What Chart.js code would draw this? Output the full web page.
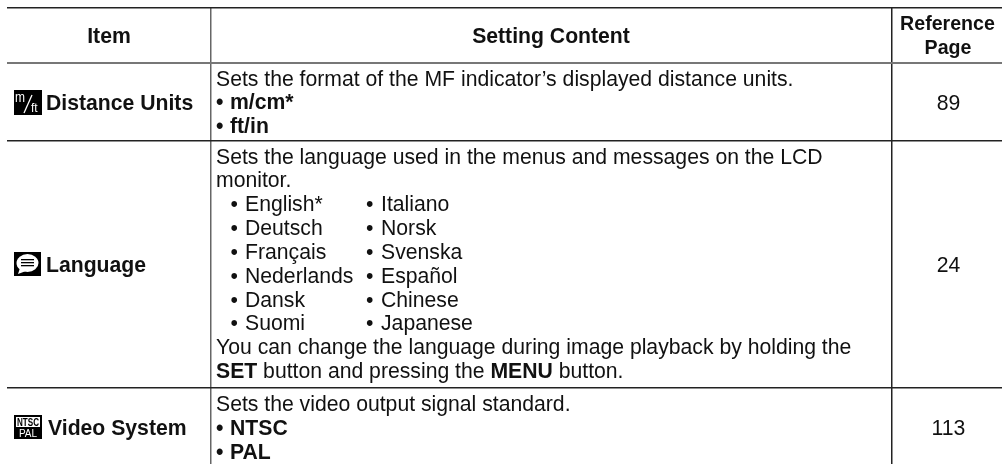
<!DOCTYPE html>
<html lang="en">
<head>
<meta charset="utf-8">
<title>Setting table</title>
<style>
  html, body { margin: 0; padding: 0; background: #fff; }
  canvas { display: block; }
</style>
</head>
<body>
<canvas id="graph" width="1002" height="464"></canvas>
<script src="https://cdn.jsdelivr.net/npm/chart.js@4"></script>
<script>
// table content
var headItem = 'Item';
var headSetting = 'Setting Content';
var headPage = ['Reference', 'Page'];
var items = ['Distance Units', 'Language', 'Video System'];
var pages = ['89', '24', '113'];
var unitOptions = ['m/cm*', 'ft/in'];
var videoOptions = ['NTSC', 'PAL'];
var languagesLeft = ['English*', 'Deutsch', 'Français', 'Nederlands', 'Dansk', 'Suomi'];
var languagesRight = ['Italiano', 'Norsk', 'Svenska', 'Español', 'Chinese', 'Japanese'];
var unitsText = 'Sets the format of the MF indicator’s displayed distance units.';
var langText = ['Sets the language used in the menus and messages on the LCD', 'monitor.'];
var videoText = 'Sets the video output signal standard.';

// table rules, on the chart's own axes
var columnEdges = [7, 211, 891.5];
var rowEdges = [8, 62.5, 141, 388];

var FONT = '"Liberation Sans", Arial, sans-serif';
var INK = '#111';
var LINE = 23.85;
var SIZE = 21.2;

function text(ctx, str, x, y, bold, align, size) {
	ctx.font = (bold ? 'bold ' : '') + (size || SIZE) + 'px ' + FONT;
	ctx.textAlign = align || 'left';
	ctx.fillStyle = INK;
	ctx.fillText(str, x, y);
}

function bullet(ctx, str, x, y, bold, gap) {
	text(ctx, '•', x, y, bold);
	text(ctx, str, x + gap, y, bold);
}

function iconBox(ctx, x, y, w, h) {
	ctx.fillStyle = '#000';
	ctx.fillRect(x, y, w, h);
	ctx.fillStyle = '#fff';
	ctx.strokeStyle = '#fff';
}

function drawIcons(ctx) {
	// m/ft
	iconBox(ctx, 14, 90, 28, 25);
	ctx.textAlign = 'left';
	ctx.font = '14px ' + FONT;
	ctx.fillText('m', 15, 102, 10);
	ctx.lineWidth = 1.3;
	ctx.beginPath();
	ctx.moveTo(24, 113);
	ctx.lineTo(32, 95);
	ctx.stroke();
	ctx.font = '12px ' + FONT;
	ctx.fillText('ft', 31, 112, 10);

	// speech bubble
	iconBox(ctx, 14, 252, 27, 24);
	ctx.beginPath();
	ctx.ellipse(27.5, 263, 11, 9, 0, 0, Math.PI * 2);
	ctx.fill();
	ctx.beginPath();
	ctx.moveTo(20, 268);
	ctx.lineTo(18, 274);
	ctx.lineTo(26, 271);
	ctx.fill();
	ctx.fillStyle = '#000';
	[259, 262, 265].forEach(function (yy) { ctx.fillRect(21, yy, 13, 1.3); });

	// NTSC / PAL
	iconBox(ctx, 14, 415, 28, 24);
	ctx.fillRect(16, 417, 24, 10);
	ctx.textAlign = 'center';
	ctx.fillStyle = '#000';
	ctx.font = 'bold 10px ' + FONT;
	ctx.fillText('NTSC', 28, 426, 22);
	ctx.fillStyle = '#fff';
	ctx.font = '10px ' + FONT;
	ctx.fillText('PAL', 28, 437, 20);
}

var tableText = {
	id: 'tableText',
	afterDraw: function (chart) {
		var ctx = chart.ctx;
		var sx = chart.scales.x, sy = chart.scales.y;
		var X = function (v) { return sx.getPixelForValue(v); };
		var Y = function (v) { return sy.getPixelForValue(v); };
		ctx.save();
		ctx.textBaseline = 'alphabetic';

		// header
		text(ctx, headItem, X(109), Y(43), true, 'center');
		text(ctx, headSetting, X(551), Y(43), true, 'center');
		text(ctx, headPage[0], X(947.5), Y(29.5), true, 'center', 19.6);
		text(ctx, headPage[1], X(948), Y(53.5), true, 'center', 19.6);

		// first column
		text(ctx, items[0], X(46), Y(109.5), true);
		text(ctx, items[1], X(46), Y(272), true);
		text(ctx, items[2], X(48), Y(435), true);
		drawIcons(ctx);

		// distance units
		text(ctx, unitsText, X(216), Y(85.5));
		unitOptions.forEach(function (s, i) {
			bullet(ctx, s, X(216), Y(85.5 + LINE * (i + 1)), true, 14);
		});

		// language
		var y0 = 163.5;
		langText.forEach(function (s, i) { text(ctx, s, X(216), Y(y0 + LINE * i)); });
		languagesLeft.forEach(function (s, i) {
			bullet(ctx, s, X(230.5), Y(y0 + LINE * (i + 2)), false, 14.5);
		});
		languagesRight.forEach(function (s, i) {
			bullet(ctx, s, X(366), Y(y0 + LINE * (i + 2)), false, 15);
		});
		text(ctx, 'You can change the language during image playback by holding the', X(216), Y(y0 + LINE * 8));
		var yLast = Y(y0 + LINE * 9), xx = X(216);
		[['SET', true], [' button and pressing the ', false], ['MENU', true], [' button.', false]].forEach(function (p) {
			text(ctx, p[0], xx, yLast, p[1]);
			xx += ctx.measureText(p[0]).width;
		});

		// video system
		text(ctx, videoText, X(216), Y(411));
		videoOptions.forEach(function (s, i) {
			bullet(ctx, s, X(216), Y(411 + LINE * (i + 1)), true, 14);
		});

		// reference pages
		[110, 272, 435].forEach(function (v, i) {
			text(ctx, pages[i], X(948.5), Y(v), false, 'center');
		});
		ctx.restore();
	}
};

var ctx = document.getElementById('graph').getContext('2d');
var chart = new Chart(ctx, {
	type: 'scatter',
	data: { datasets: [] },
	plugins: [tableText],
	options: {
		responsive: false,
		animation: false,
		layout: { padding: { left: 7, top: 7, right: 0, bottom: 0 } },
		plugins: { legend: { display: false }, tooltip: { enabled: false } },
		scales: {
			x: {
				type: 'linear',
				min: 7,
				max: 1002,
				afterBuildTicks: function (axis) {
					axis.ticks = columnEdges.map(function (v) { return { value: v }; });
				},
				ticks: { display: false },
				border: { display: false },
				grid: {
					drawTicks: false,
					color: function (c) { return c.index === 0 ? 'rgba(0,0,0,0)' : (c.index === 1 ? '#666' : '#222'); },
					lineWidth: 1.5
				}
			},
			y: {
				type: 'linear',
				reverse: true,
				min: 7,
				max: 464,
				afterBuildTicks: function (axis) {
					axis.ticks = rowEdges.map(function (v) { return { value: v }; });
				},
				ticks: { display: false },
				border: { display: false },
				grid: {
					drawTicks: false,
					color: function (c) { return c.index === 1 ? '#777' : '#222'; },
					lineWidth: function (c) { return c.index === 1 ? 2 : 1.5; }
				}
			}
		}
	}
});
</script>
</body>
</html>
